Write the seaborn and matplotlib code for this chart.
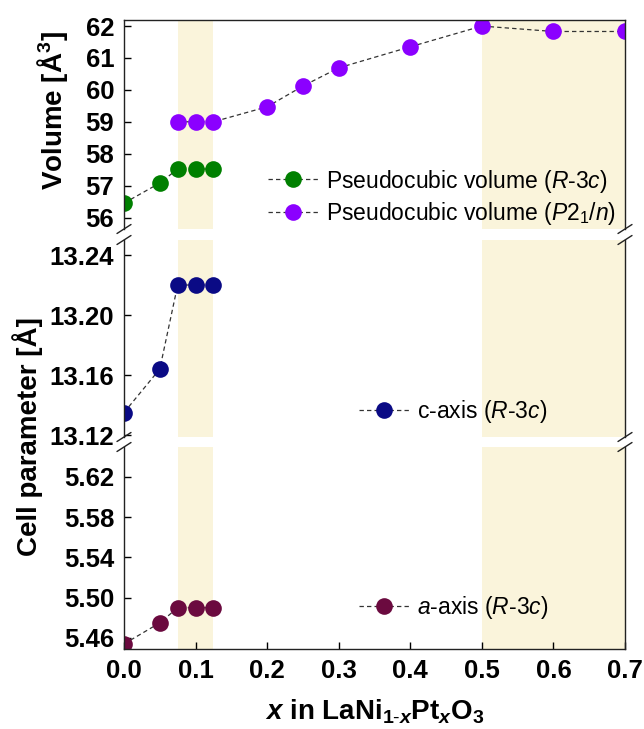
import numpy as np
import pandas as pd
import matplotlib
matplotlib.use("Agg")
import matplotlib.pyplot as plt
import seaborn as sns

# ---------------- data ----------------
x_r3c = [0.0, 0.05, 0.075, 0.1, 0.125]
vol_r3c = [56.45, 57.08, 57.52, 57.52, 57.52]
x_p21n = [0.075, 0.1, 0.125, 0.2, 0.25, 0.3, 0.4, 0.5, 0.6, 0.7]
vol_p21n = [59.0, 59.0, 59.0, 59.47, 60.12, 60.69, 61.35, 62.0, 61.83, 61.83]
c_axis = [13.135, 13.164, 13.22, 13.22, 13.22]
a_axis = [5.454, 5.475, 5.49, 5.49, 5.49]
shade_regions = [(0.075, 0.125), (0.5, 0.7)]
xticks = [0.0, 0.1, 0.2, 0.3, 0.4, 0.5, 0.6, 0.7]
vol_ticks = [56, 57, 58, 59, 60, 61, 62]
c_ticks = [13.12, 13.16, 13.20, 13.24]
a_ticks = [5.46, 5.50, 5.54, 5.58, 5.62]

sns.set_style("ticks")
plt.rcParams["font.family"] = ["Liberation Sans", "DejaVu Sans"]
plt.rcParams["mathtext.fontset"] = "custom"
plt.rcParams["mathtext.rm"] = "Liberation Sans"
plt.rcParams["mathtext.it"] = "Liberation Sans:italic"
plt.rcParams["mathtext.bf"] = "Liberation Sans:bold"
plt.rcParams["mathtext.bfit"] = "Liberation Sans:bold:italic"
for k in ["text.color", "axes.labelcolor", "xtick.color", "ytick.color"]:
    plt.rcParams[k] = "black"

W, H = 644, 729
fig = plt.figure(figsize=(W / 100, H / 100), dpi=100)

left, right = 124 / W, 625 / W
def pos(top_px, bot_px):
    return [left, 1 - bot_px / H, right - left, (bot_px - top_px) / H]

ax_top = fig.add_axes(pos(20, 229))
ax_mid = fig.add_axes(pos(240, 437))
ax_bot = fig.add_axes(pos(447, 649))
axes = [ax_top, ax_mid, ax_bot]

shade = "#FAF4DB"
line_kw = dict(color="#333333", linestyle=(0, (3.5, 2.5)), linewidth=0.9,
               marker="o", markersize=12, markeredgewidth=0)

green, purple, navy, maroon = "#008000", "#8B00FF", "#0A0A85", "#6B0A3F"

df_r = pd.DataFrame({"x": x_r3c, "vol": vol_r3c, "c": c_axis, "a": a_axis})
df_p = pd.DataFrame({"x": x_p21n, "vol": vol_p21n})

for ax in axes:
    for a0, a1 in shade_regions:
        ax.axvspan(a0, a1, color=shade, lw=0, zorder=0)

sns.lineplot(data=df_r, x="x", y="vol", ax=ax_top, markerfacecolor=green,
             label="Pseudocubic volume ($\\mathit{R}$-$\\mathit{3c}$)", **line_kw)
sns.lineplot(data=df_p, x="x", y="vol", ax=ax_top, markerfacecolor=purple,
             label="Pseudocubic volume ($\\mathit{P2_1/n}$)", **line_kw)
sns.lineplot(data=df_r, x="x", y="c", ax=ax_mid, markerfacecolor=navy,
             label="c-axis ($\\mathit{R}$-$\\mathit{3c}$)", **line_kw)
sns.lineplot(data=df_r, x="x", y="a", ax=ax_bot, markerfacecolor=maroon,
             label="$\\mathit{a}$-axis ($\\mathit{R}$-$\\mathit{3c}$)", **line_kw)

ax_top.set_ylim(55.64, 62.19)
ax_mid.set_ylim(13.1187, 13.25)
ax_bot.set_ylim(5.449, 5.6498)
ax_top.set_yticks(vol_ticks)
ax_mid.set_yticks(c_ticks)
ax_mid.set_yticklabels([f"{v:.2f}" for v in c_ticks])
ax_bot.set_yticks(a_ticks)
ax_bot.set_yticklabels([f"{v:.2f}" for v in a_ticks])

for ax in axes:
    ax.set_xlim(0, 0.7)
    ax.set_xlabel("")
    ax.set_ylabel("")
    ax.tick_params(axis="y", direction="in", length=5, width=1, pad=7,
                   labelsize=18.5, left=True, right=False, colors="black")
    for lab in ax.get_yticklabels():
        lab.set_fontweight("bold")
    for s in ["left", "right"]:
        ax.spines[s].set_visible(True)
        ax.spines[s].set_linewidth(1.0)
        ax.spines[s].set_color("#222222")
    ax.spines["top"].set_visible(False)
    ax.spines["bottom"].set_visible(False)
    ax.set_facecolor("none")

ax_top.spines["top"].set_visible(True)
ax_top.spines["top"].set_linewidth(1.0)
ax_top.spines["top"].set_color("#222222")
ax_bot.spines["bottom"].set_visible(True)
ax_bot.spines["bottom"].set_linewidth(1.0)
ax_bot.spines["bottom"].set_color("#222222")

for ax in [ax_top, ax_mid]:
    ax.tick_params(axis="x", bottom=False, top=False, labelbottom=False)
ax_bot.set_xticks(xticks)
ax_bot.set_xticklabels([f"{v:.1f}" for v in xticks])
ax_bot.tick_params(axis="x", direction="in", length=5, width=1, pad=7,
                   labelsize=18.5, top=False, colors="black")
for lab in ax_bot.get_xticklabels():
    lab.set_fontweight("bold")

# legends
leg_kw = dict(frameon=False, fontsize=16.5, handlelength=2.2, handletextpad=0.35,
              borderpad=0, borderaxespad=0, labelspacing=0.22, loc="center left",
              labelcolor="black")
ax_top.legend(bbox_to_anchor=(0.287, 0.153), **leg_kw)
ax_mid.legend(bbox_to_anchor=(0.469, 0.127), **leg_kw)
ax_bot.legend(bbox_to_anchor=(0.469, 0.203), **leg_kw)

# break marks
def brk(ax, yfrac, xfrac):
    trans = ax.transAxes
    dx = 7 / ((right - left) * W)
    bb = ax.get_position()
    dy = 4.5 / (bb.height * H)
    ax.plot([xfrac - dx, xfrac + dx], [yfrac - dy, yfrac + dy], transform=trans,
            color="#222222", lw=1.0, clip_on=False, zorder=5)

for ax in [ax_top, ax_mid]:
    brk(ax, 0.0, 0.0)
    brk(ax, 0.0, 1.0)
for ax in [ax_mid, ax_bot]:
    brk(ax, 1.0, 0.0)
    brk(ax, 1.0, 1.0)

# axis labels
fig.text(53 / W, 1 - 111 / H, "Volume [Å$^\\mathbf{3}$]", rotation=90,
         ha="center", va="center", fontsize=20, fontweight="bold", color="black")
fig.text(28 / W, 1 - 437 / H, "Cell parameter [Å]", rotation=90,
         ha="center", va="center", fontsize=20, fontweight="bold", color="black")
fig.text(375 / W, 1 - 719 / H,
         "$\\boldsymbol{x}$ in LaNi$_{\\mathbf{1}\\text{-}\\boldsymbol{x}}$Pt$_{\\boldsymbol{x}}$O$_{\\mathbf{3}}$",
         ha="center", va="baseline", fontsize=20, fontweight="bold", color="black")

fig.savefig("out.png", dpi=100)
